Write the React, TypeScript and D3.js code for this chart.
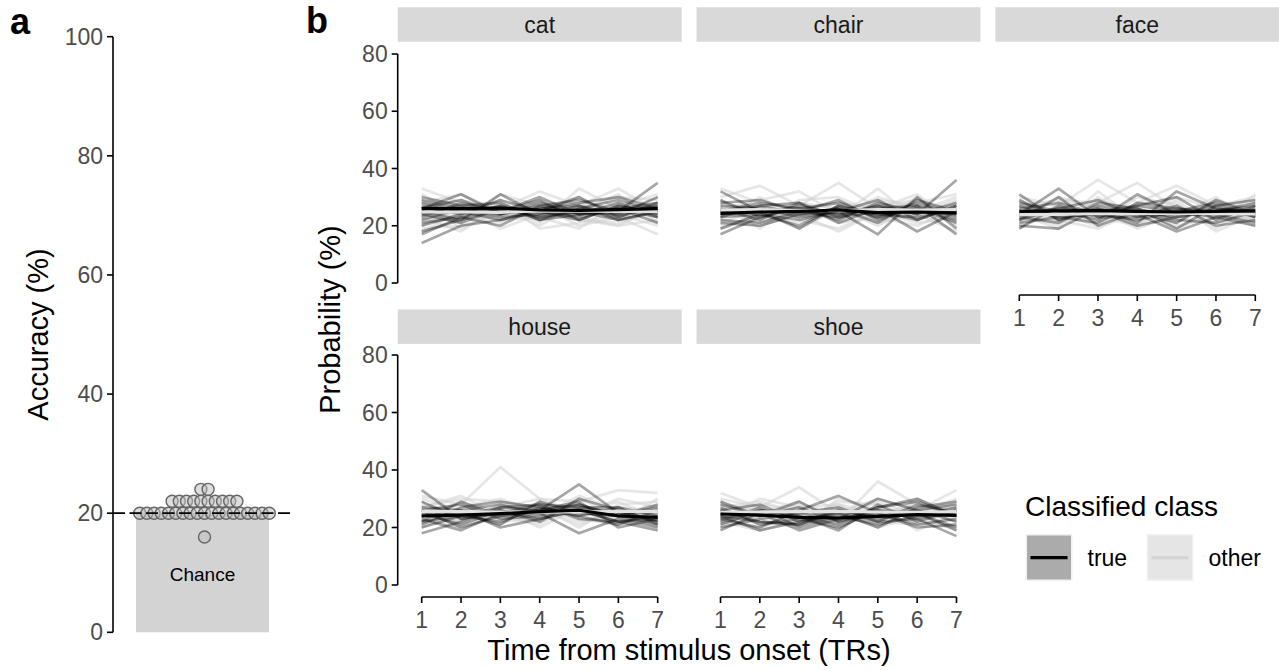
import React from "react";
import * as d3 from "d3";

// ---------------- DATA ----------------
const accuracy: number[] = [
  16,
  20, 20, 20, 20, 20, 20, 20, 20, 20, 20, 20, 20, 20, 20, 20, 20, 20, 20, 20,
  22, 22, 22, 22, 22, 22, 22, 22, 22, 22,
  24, 24,
];
const chanceLevel = 20;
const accuracyTicks = [0, 20, 40, 60, 80, 100];

const facetNames = ["cat", "chair", "face", "house", "shoe"];
const timePoints = [1, 2, 3, 4, 5, 6, 7];
const probTicks = [0, 20, 40, 60, 80];

const catTrue = [
  [24, 27, 25, 30, 24, 26, 28], [22, 26, 23, 24, 27, 22, 25], [27, 24, 29, 25, 22, 27, 24],
  [18, 22, 26, 23, 25, 24, 30], [26, 31, 24, 27, 29, 25, 27], [21, 23, 27, 22, 24, 28, 23],
  [29, 26, 24, 26, 27, 24, 26], [14, 20, 22, 25, 23, 26, 21], [25, 22, 31, 24, 26, 23, 28],
  [23, 28, 25, 29, 22, 27, 24], [28, 25, 22, 26, 28, 30, 26], [20, 24, 27, 23, 25, 22, 25],
  [26, 29, 24, 28, 24, 25, 35], [24, 21, 26, 25, 30, 23, 27], [30, 27, 28, 22, 26, 29, 25],
  [17, 23, 20, 27, 24, 26, 23],
];
const catOther = [
  [33, 28, 26, 32, 27, 33, 25], [21, 26, 19, 24, 22, 20, 27], [25, 22, 28, 21, 33, 26, 24],
  [19, 20, 24, 27, 20, 23, 17], [28, 31, 25, 22, 26, 30, 29], [23, 18, 27, 25, 23, 20, 22],
  [26, 27, 21, 28, 24, 27, 31], [22, 24, 29, 19, 21, 24, 20], [31, 23, 24, 26, 30, 22, 26],
  [18, 25, 22, 23, 19, 28, 23], [27, 29, 26, 20, 28, 25, 28], [24, 21, 31, 27, 22, 21, 25],
  [20, 26, 23, 29, 25, 31, 21], [29, 19, 25, 22, 27, 24, 30],
];
const chairTrue = [
  [32, 25, 26, 24, 27, 24, 36], [23, 27, 24, 26, 21, 29, 25], [26, 22, 28, 23, 25, 22, 27],
  [19, 24, 20, 27, 24, 26, 22], [25, 28, 26, 22, 28, 25, 24], [22, 21, 25, 29, 22, 27, 23],
  [27, 26, 23, 25, 17, 30, 19], [17, 23, 27, 24, 26, 18, 25], [24, 25, 19, 27, 23, 26, 21],
  [28, 29, 25, 23, 27, 24, 28], [21, 20, 24, 26, 24, 23, 26], [25, 27, 28, 21, 26, 27, 17],
  [23, 24, 22, 25, 29, 22, 27], [29, 23, 26, 28, 23, 28, 24],
];
const chairOther = [
  [30, 34, 27, 35, 26, 28, 31], [22, 20, 24, 18, 25, 21, 23], [26, 29, 32, 24, 30, 26, 27],
  [20, 23, 21, 27, 22, 30, 20], [28, 25, 26, 22, 28, 24, 29], [24, 27, 19, 26, 20, 27, 25],
  [27, 22, 29, 30, 24, 23, 22], [21, 26, 24, 23, 33, 22, 28], [33, 28, 23, 25, 27, 29, 24],
  [19, 24, 27, 21, 23, 20, 26], [25, 21, 25, 28, 26, 31, 21], [23, 30, 22, 19, 25, 25, 30],
  [29, 19, 28, 26, 21, 24, 18], [26, 25, 24, 23, 29, 27, 25],
];
const faceTrue = [
  [31, 22, 27, 25, 23, 26, 24], [24, 33, 23, 27, 30, 22, 27], [22, 26, 25, 20, 23, 25, 28],
  [27, 23, 21, 28, 26, 24, 21], [20, 19, 26, 24, 18, 23, 26], [26, 28, 24, 22, 25, 28, 23],
  [23, 21, 28, 26, 22, 21, 25], [28, 25, 22, 31, 24, 27, 29], [19, 27, 23, 23, 27, 20, 22],
  [25, 24, 26, 21, 32, 26, 25], [22, 30, 20, 25, 21, 29, 24], [29, 22, 25, 27, 25, 23, 20],
  [24, 26, 29, 23, 26, 25, 27], [21, 23, 24, 26, 19, 27, 23],
];
const faceOther = [
  [30, 27, 36, 28, 34, 27, 30], [23, 22, 19, 25, 23, 21, 24], [27, 29, 28, 35, 26, 25, 22],
  [20, 24, 23, 20, 29, 19, 27], [25, 20, 32, 22, 24, 30, 21], [22, 26, 22, 27, 20, 23, 28],
  [28, 23, 25, 24, 30, 26, 23], [19, 28, 27, 21, 22, 28, 26], [26, 25, 21, 30, 27, 22, 31],
  [24, 19, 30, 23, 25, 24, 20], [21, 27, 24, 26, 21, 29, 25], [29, 24, 20, 28, 28, 18, 24],
  [23, 30, 26, 19, 24, 27, 29], [27, 21, 29, 25, 19, 25, 22],
];
const houseTrue = [
  [22, 29, 24, 26, 35, 25, 22], [25, 21, 26, 23, 26, 22, 24], [20, 24, 22, 27, 24, 27, 21],
  [27, 26, 28, 25, 28, 24, 27], [23, 19, 25, 28, 23, 22, 19], [26, 28, 23, 24, 27, 25, 25],
  [18, 22, 27, 26, 29, 20, 23], [24, 25, 21, 29, 25, 24, 28], [29, 23, 26, 22, 30, 26, 22],
  [21, 27, 29, 27, 24, 21, 26], [26, 20, 24, 25, 18, 23, 20], [22, 24, 27, 28, 27, 27, 24],
  [24, 26, 20, 23, 26, 22, 23], [33, 23, 25, 26, 28, 24, 21],
];
const houseOther = [
  [31, 28, 41, 30, 29, 33, 32], [23, 20, 25, 22, 26, 24, 21], [27, 30, 29, 26, 24, 30, 27],
  [22, 24, 21, 29, 23, 21, 25], [26, 22, 28, 24, 31, 26, 22], [24, 29, 23, 27, 20, 28, 29],
  [28, 25, 26, 20, 27, 23, 24], [20, 27, 30, 25, 24, 27, 26], [29, 21, 24, 28, 22, 25, 20],
  [25, 26, 22, 23, 28, 22, 30], [21, 23, 27, 30, 25, 29, 23], [27, 31, 24, 21, 30, 24, 27],
  [24, 22, 26, 27, 21, 26, 22], [30, 26, 23, 25, 26, 21, 28],
];
const shoeTrue = [
  [28, 24, 29, 22, 27, 30, 24], [24, 22, 21, 26, 23, 25, 19], [21, 26, 24, 19, 28, 22, 26],
  [26, 28, 22, 25, 20, 27, 29], [23, 20, 26, 31, 25, 21, 23], [25, 25, 19, 23, 30, 26, 22],
  [20, 23, 25, 27, 22, 28, 25], [27, 21, 23, 20, 26, 23, 17], [22, 27, 20, 24, 21, 24, 27],
  [29, 24, 27, 22, 25, 20, 21], [24, 19, 22, 26, 24, 26, 28], [19, 25, 24, 21, 27, 29, 24],
  [26, 22, 21, 25, 22, 23, 26], [23, 26, 25, 23, 26, 25, 20],
];
const shoeOther = [
  [32, 27, 34, 25, 30, 26, 33], [22, 19, 23, 28, 22, 21, 20], [27, 29, 25, 22, 36, 28, 26],
  [20, 24, 28, 24, 21, 30, 24], [25, 22, 20, 30, 26, 23, 29], [28, 26, 24, 21, 25, 27, 22],
  [23, 30, 27, 26, 20, 24, 27], [26, 21, 22, 29, 28, 19, 25], [21, 25, 29, 23, 24, 29, 23],
  [29, 23, 21, 27, 23, 25, 30], [24, 28, 26, 20, 27, 22, 21], [22, 20, 25, 26, 22, 27, 28],
  [30, 27, 23, 24, 29, 24, 19], [25, 24, 27, 28, 25, 26, 27],
];

const catTrueMean = [26, 26, 26.2, 25.5, 25.4, 25.6, 26];
const catOtherMean = [24.8, 24.8, 24.7, 25.2, 25.1, 25.0, 24.9];
const chairTrueMean = [24.3, 24.8, 25, 25.5, 24.6, 24.8, 24.5];
const chairOtherMean = [25.5, 25.6, 25.4, 25.3, 25.6, 25.5, 25.6];
const faceTrueMean = [25, 25.2, 25.3, 25, 24.8, 25, 25.2];
const faceOtherMean = [24, 24, 24.3, 24.2, 24.4, 24.2, 24.1];
const houseTrueMean = [24, 24.3, 24.8, 25.5, 26, 24, 23.5];
const houseOtherMean = [25.6, 25.5, 25.4, 25.3, 25.4, 25.6, 25.5];
const shoeTrueMean = [24.7, 24.3, 23.5, 23.3, 23.9, 24.5, 24.2];
const shoeOtherMean = [25.3, 25.4, 25.5, 25.6, 25.4, 25.3, 25.5];

const trueLines = [catTrue, chairTrue, faceTrue, houseTrue, shoeTrue];
const otherLines = [catOther, chairOther, faceOther, houseOther, shoeOther];
const trueMeans = [catTrueMean, chairTrueMean, faceTrueMean, houseTrueMean, shoeTrueMean];
const otherMeans = [catOtherMean, chairOtherMean, faceOtherMean, houseOtherMean, shoeOtherMean];

const legendLabels = ["true", "other"];

// ---------------- STYLE / LAYOUT ----------------
const FONT = "'Liberation Sans', Arial, Helvetica, sans-serif";
const TICK_COLOR = "#4D4D4D";
const TICK_SIZE = 23;
const TITLE_SIZE = 29;

const W = 1279;
const H = 670;

// panel a
const aY = d3.scaleLinear().domain([0, 100]).range([632.3, 36.7]);
const aAxisX = 113;
const aX = d3.scaleBand().domain(["Chance"]).range([136, 269]);

// panel b
const colLeft = [397.7, 696.5, 995.3];
const stripW = 284;
const rowStripTop = [7.3, 309.5];
const stripH = 34.4;
const xOffset = 24;
const yRanges: [number, number][] = [[283, 54], [585, 355]];

function App() {
  // beeswarm-like layout of accuracy points
  const groups = d3.group(accuracy, (d) => d);
  const dots: { x: number; y: number }[] = [];
  const cx = (aX("Chance") as number) + aX.bandwidth() / 2 + 2;
  const spacing = 7.2;
  groups.forEach((vals, v) => {
    vals.forEach((_, i) => {
      dots.push({ x: cx + (i - (vals.length - 1) / 2) * spacing, y: aY(v) });
    });
  });

  const facets = facetNames.map((name, i) => {
    const row = Math.floor(i / 3);
    const col = i % 3;
    const left = colLeft[col];
    const x = d3.scaleLinear().domain([1, 7]).range([left + xOffset, left + stripW - xOffset]);
    const y = d3.scaleLinear().domain([0, 80]).range(yRanges[row]);
    const line = d3
      .line<number>()
      .x((_, j) => x(timePoints[j]))
      .y((d) => y(d));
    return { name, row, col, left, x, y, line, i };
  });

  const hasXAxis = (row: number, col: number) => row === 1 || col === 2;

  return (
    <svg
      width={W}
      height={H}
      style={{ position: "absolute", left: 0, top: 0, background: "#fff" }}
      fontFamily={FONT}
    >
      {/* ---------- panel a ---------- */}
      <text x={10} y={34} fontSize={36} fontWeight="bold" fill="#000">a</text>
      <text
        transform={`translate(48,${(aY(0) + aY(100)) / 2}) rotate(-90)`}
        textAnchor="middle"
        fontSize={TITLE_SIZE}
        fill="#000"
      >
        Accuracy (%)
      </text>
      <line x1={aAxisX} x2={aAxisX} y1={aY(0)} y2={aY(100)} stroke="#000" strokeWidth={1.6} />
      {accuracyTicks.map((t) => (
        <g key={t}>
          <line x1={aAxisX - 6} x2={aAxisX} y1={aY(t)} y2={aY(t)} stroke="#000" strokeWidth={1.6} />
          <text x={aAxisX - 10} y={aY(t)} dy="0.35em" textAnchor="end" fontSize={TICK_SIZE} fill={TICK_COLOR}>
            {t}
          </text>
        </g>
      ))}
      <rect
        x={aX("Chance")}
        y={aY(chanceLevel)}
        width={aX.bandwidth()}
        height={aY(0) - aY(chanceLevel)}
        fill="#D3D3D3"
      />
      <text x={(aX("Chance") as number) + aX.bandwidth() / 2} y={574} dy="0.35em" textAnchor="middle" fontSize={19} fill="#000">
        Chance
      </text>
      {dots.map((d, i) => (
        <circle key={i} cx={d.x} cy={d.y} r={6} fill="rgba(190,190,190,0.5)" stroke="#666" strokeWidth={1.4} />
      ))}
      <line
        x1={aAxisX}
        x2={291}
        y1={aY(chanceLevel)}
        y2={aY(chanceLevel)}
        stroke="#000"
        strokeWidth={1.8}
        strokeDasharray="12,4.5"
      />

      {/* ---------- panel b ---------- */}
      <text x={306} y={33} fontSize={36} fontWeight="bold" fill="#000">b</text>
      <text
        transform={`translate(340,${(yRanges[0][1] + yRanges[1][0]) / 2}) rotate(-90)`}
        textAnchor="middle"
        fontSize={TITLE_SIZE}
        fill="#000"
      >
        Probability (%)
      </text>
      <text x={689} y={660} textAnchor="middle" fontSize={TITLE_SIZE} fill="#000">
        Time from stimulus onset (TRs)
      </text>

      {facets.map((f) => (
        <g key={f.name}>
          <rect x={f.left} y={rowStripTop[f.row]} width={stripW} height={stripH} fill="#D9D9D9" />
          <text
            x={f.left + stripW / 2}
            y={rowStripTop[f.row] + stripH / 2}
            dy="0.35em"
            textAnchor="middle"
            fontSize={TICK_SIZE}
            fill="#1A1A1A"
          >
            {f.name}
          </text>
          {otherLines[f.i].map((vals, k) => (
            <path key={"o" + k} d={f.line(vals) || ""} fill="none" stroke="#d2d2d2" strokeOpacity={0.55} strokeWidth={2.7} strokeLinejoin="round" />
          ))}
          {trueLines[f.i].map((vals, k) => (
            <path key={"t" + k} d={f.line(vals) || ""} fill="none" stroke="#000" strokeOpacity={0.35} strokeWidth={2.7} strokeLinejoin="round" />
          ))}
          <path d={f.line(otherMeans[f.i]) || ""} fill="none" stroke="#e2e2e2" strokeWidth={3.2} />
          <path d={f.line(trueMeans[f.i]) || ""} fill="none" stroke="#000" strokeWidth={3.2} />

          {f.col === 0 && (
            <g>
              <line x1={f.left} x2={f.left} y1={f.y(0)} y2={f.y(80)} stroke="#000" strokeWidth={1.6} />
              {probTicks.map((t) => (
                <g key={t}>
                  <line x1={f.left - 6} x2={f.left} y1={f.y(t)} y2={f.y(t)} stroke="#000" strokeWidth={1.6} />
                  <text x={f.left - 10} y={f.y(t)} dy="0.35em" textAnchor="end" fontSize={TICK_SIZE} fill={TICK_COLOR}>
                    {t}
                  </text>
                </g>
              ))}
            </g>
          )}
          {hasXAxis(f.row, f.col) && (
            <g>
              <line x1={f.x(1)} x2={f.x(7)} y1={f.y(0) + 12} y2={f.y(0) + 12} stroke="#000" strokeWidth={1.6} />
              {timePoints.map((t) => (
                <g key={t}>
                  <line x1={f.x(t)} x2={f.x(t)} y1={f.y(0) + 12} y2={f.y(0) + 18} stroke="#000" strokeWidth={1.6} />
                  <text x={f.x(t)} y={f.y(0) + 35} dy="0.35em" textAnchor="middle" fontSize={TICK_SIZE} fill={TICK_COLOR}>
                    {t}
                  </text>
                </g>
              ))}
            </g>
          )}
        </g>
      ))}

      {/* ---------- legend ---------- */}
      <text x={1025} y={516} fontSize={28} fill="#000">Classified class</text>
      {legendLabels.map((lab, i) => {
        const kx = i === 0 ? 1025.5 : 1146.5;
        return (
          <g key={lab}>
            <rect x={kx} y={534} width={47} height={47} fill="#F2F2F2" />
            <rect x={kx + 1.5} y={535.5} width={44} height={44} fill={i === 0 ? "#ABABAB" : "#E5E5E5"} />
            <line
              x1={kx + 5}
              x2={kx + 42}
              y1={557.7}
              y2={557.7}
              stroke={i === 0 ? "#000" : "#D3D3D3"}
              strokeWidth={3.2}
            />
            <text x={kx + 62} y={558} dy="0.35em" fontSize={TICK_SIZE} fill="#000">
              {lab}
            </text>
          </g>
        );
      })}
    </svg>
  );
}

export default App;
